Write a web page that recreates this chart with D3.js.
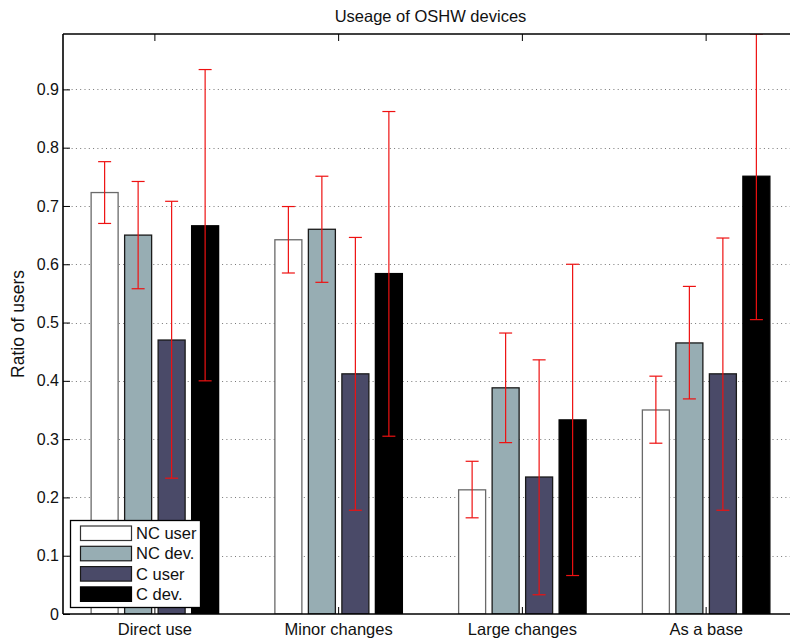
<!DOCTYPE html>
<html>
<head>
<meta charset="utf-8">
<script src="https://cdn.jsdelivr.net/npm/d3@7"></script>
<style>
  html, body { margin: 0; padding: 0; background: #fff; }
  svg { display: block; font-family: "Liberation Sans", Arial, Helvetica, sans-serif; }
</style>
</head>
<body>
<svg id="chart" width="790" height="639"></svg>
<script>
// ---- data ----
const categories = ["Direct use", "Minor changes", "Large changes", "As a base"];
const seriesNames = ["NC user", "NC dev.", "C user", "C dev."];
const ncUser = [0.723, 0.642, 0.213, 0.350];
const ncDev  = [0.650, 0.660, 0.388, 0.465];
const cUser  = [0.470, 0.412, 0.235, 0.412];
const cDev   = [0.666, 0.584, 0.333, 0.751];
const ncUserLow = [0.670, 0.585, 0.165, 0.293];
const ncUserHigh = [0.776, 0.699, 0.262, 0.408];
const ncDevLow = [0.558, 0.569, 0.294, 0.369];
const ncDevHigh = [0.742, 0.751, 0.482, 0.562];
const cUserLow = [0.233, 0.178, 0.033, 0.178];
const cUserHigh = [0.708, 0.646, 0.436, 0.645];
const cDevLow = [0.400, 0.305, 0.066, 0.505];
const cDevHigh = [0.934, 0.862, 0.600, 0.997];
const yTicks = [0, 0.1, 0.2, 0.3, 0.4, 0.5, 0.6, 0.7, 0.8, 0.9];
const yTickLabels = ["0", "0.1", "0.2", "0.3", "0.4", "0.5", "0.6", "0.7", "0.8", "0.9"];

const fills = ["#ffffff", "#97adb3", "#4a4a68", "#000000"];
const strokes = ["#6a6a6a", "#1a1a1a", "#1a1a1a", "#000000"];

const values = [ncUser, ncDev, cUser, cDev];
const lows = [ncUserLow, ncDevLow, cUserLow, cDevLow];
const highs = [ncUserHigh, ncDevHigh, cUserHigh, cDevHigh];

const svg = d3.select("#chart");
const pLeft = 63, pRight = 798, pTop = 34, pBottom = 614;

const x0 = d3.scaleBand().domain(categories).range([pLeft, pRight]).padding(0);
const x1 = d3.scaleBand().domain(seriesNames).range([-67, 67]).paddingInner(0.194).paddingOuter(0.097);
const y = d3.scaleLinear().domain([0, 0.995]).range([pBottom, pTop]);

// clip
svg.append("defs").append("clipPath").attr("id", "plotclip")
  .append("rect").attr("x", pLeft).attr("y", pTop).attr("width", pRight - pLeft).attr("height", pBottom - pTop);

// grid
svg.append("g").selectAll("line").data(yTicks.slice(1)).join("line")
  .attr("x1", pLeft).attr("x2", pRight)
  .attr("y1", d => Math.round(y(d)) + 0.5).attr("y2", d => Math.round(y(d)) + 0.5)
  .attr("stroke", "#777").attr("stroke-width", 1).attr("stroke-dasharray", "1,3.3");

// bars
const rows = [];
categories.forEach((c, i) => seriesNames.forEach((s, j) => rows.push({c, s, j, v: values[j][i], lo: lows[j][i], hi: highs[j][i]})));

const plot = svg.append("g").attr("clip-path", "url(#plotclip)");
plot.selectAll("rect.bar").data(rows).join("rect").attr("class", "bar")
  .attr("x", d => x0(d.c) + x0.bandwidth() / 2 + x1(d.s))
  .attr("width", x1.bandwidth())
  .attr("y", d => y(d.v))
  .attr("height", d => y(0) - y(d.v))
  .attr("fill", d => fills[d.j])
  .attr("stroke", d => strokes[d.j])
  .attr("stroke-width", 1.3);

// error bars
const cx = d => x0(d.c) + x0.bandwidth() / 2 + x1(d.s) + x1.bandwidth() / 2;
const hiC = d => y(Math.min(d.hi, 0.995));
const eb = plot.append("g").attr("stroke", "#ee1111").attr("stroke-width", 1.2);
eb.selectAll("line.v").data(rows).join("line").attr("class", "v")
  .attr("x1", cx).attr("x2", cx)
  .attr("y1", hiC).attr("y2", d => y(d.lo));
eb.selectAll("line.t").data(rows).join("line").attr("class", "t")
  .attr("x1", d => cx(d) - 6.5).attr("x2", d => cx(d) + 6.5)
  .attr("y1", hiC).attr("y2", hiC);
eb.selectAll("line.b").data(rows).join("line").attr("class", "b")
  .attr("x1", d => cx(d) - 6.5).attr("x2", d => cx(d) + 6.5)
  .attr("y1", d => y(d.lo)).attr("y2", d => y(d.lo));

// axes lines
const axG = svg.append("g");
axG.append("line").attr("x1", pLeft).attr("x2", pLeft).attr("y1", pTop).attr("y2", pBottom)
  .attr("stroke", "#000").attr("stroke-width", 1.6);
axG.append("line").attr("x1", pLeft).attr("x2", 790).attr("y1", pBottom).attr("y2", pBottom)
  .attr("stroke", "#000").attr("stroke-width", 1.6);
axG.append("line").attr("x1", pLeft).attr("x2", 790).attr("y1", pTop).attr("y2", pTop)
  .attr("stroke", "#000").attr("stroke-width", 1.3);

// y ticks (inward)
const yAxis = d3.axisRight(y).tickValues(yTicks).tickSize(7).tickFormat("");
const yg = svg.append("g").attr("transform", `translate(${pLeft},0)`).call(yAxis);
yg.select(".domain").remove();
yg.selectAll(".tick line").attr("stroke", "#000").attr("stroke-width", 1);
svg.append("g").selectAll("text").data(yTicks).join("text")
  .attr("x", 59).attr("y", d => y(d)).attr("dy", "0.35em")
  .attr("text-anchor", "end").attr("font-size", 16).attr("fill", "#111")
  .text((d, i) => yTickLabels[i]);

// x ticks (inward, bottom up and top down)
const xb = d3.axisTop(x0).tickSize(7).tickFormat("");
const xbg = svg.append("g").attr("transform", `translate(0,${pBottom})`).call(xb);
xbg.select(".domain").remove();
xbg.selectAll(".tick line").attr("stroke", "#000");
const xt = d3.axisBottom(x0).tickSize(7).tickFormat("");
const xtg = svg.append("g").attr("transform", `translate(0,${pTop})`).call(xt);
xtg.select(".domain").remove();
xtg.selectAll(".tick line").attr("stroke", "#000");

svg.append("g").selectAll("text").data(categories).join("text")
  .attr("x", c => x0(c) + x0.bandwidth() / 2).attr("y", 635)
  .attr("text-anchor", "middle").attr("font-size", 16.5).attr("fill", "#111")
  .text(c => c);

// title
svg.append("text").attr("x", (pLeft + pRight) / 2).attr("y", 22)
  .attr("text-anchor", "middle").attr("font-size", 16.5).attr("fill", "#111")
  .text("Useage of OSHW devices");

// y label
svg.append("text").attr("transform", "translate(24,324) rotate(-90)")
  .attr("text-anchor", "middle").attr("font-size", 17.5).attr("fill", "#111")
  .text("Ratio of users");

// legend
const lg = svg.append("g");
lg.append("rect").attr("x", 70.5).attr("y", 520.5).attr("width", 130).attr("height", 87)
  .attr("fill", "#fff").attr("stroke", "#000").attr("stroke-width", 1.3);
const li = lg.selectAll("g.item").data(seriesNames).join("g").attr("class", "item")
  .attr("transform", (d, i) => `translate(0,${526 + i * 20.3})`);
li.append("rect").attr("x", 80.5).attr("y", 0).attr("width", 51).attr("height", 14.5)
  .attr("fill", (d, i) => fills[i]).attr("stroke", (d, i) => i === 0 ? "#333" : strokes[i]).attr("stroke-width", 1.2);
li.append("text").attr("x", 136).attr("y", 13).attr("font-size", 16.5).attr("fill", "#111")
  .text(d => d);
</script>
</body>
</html>
